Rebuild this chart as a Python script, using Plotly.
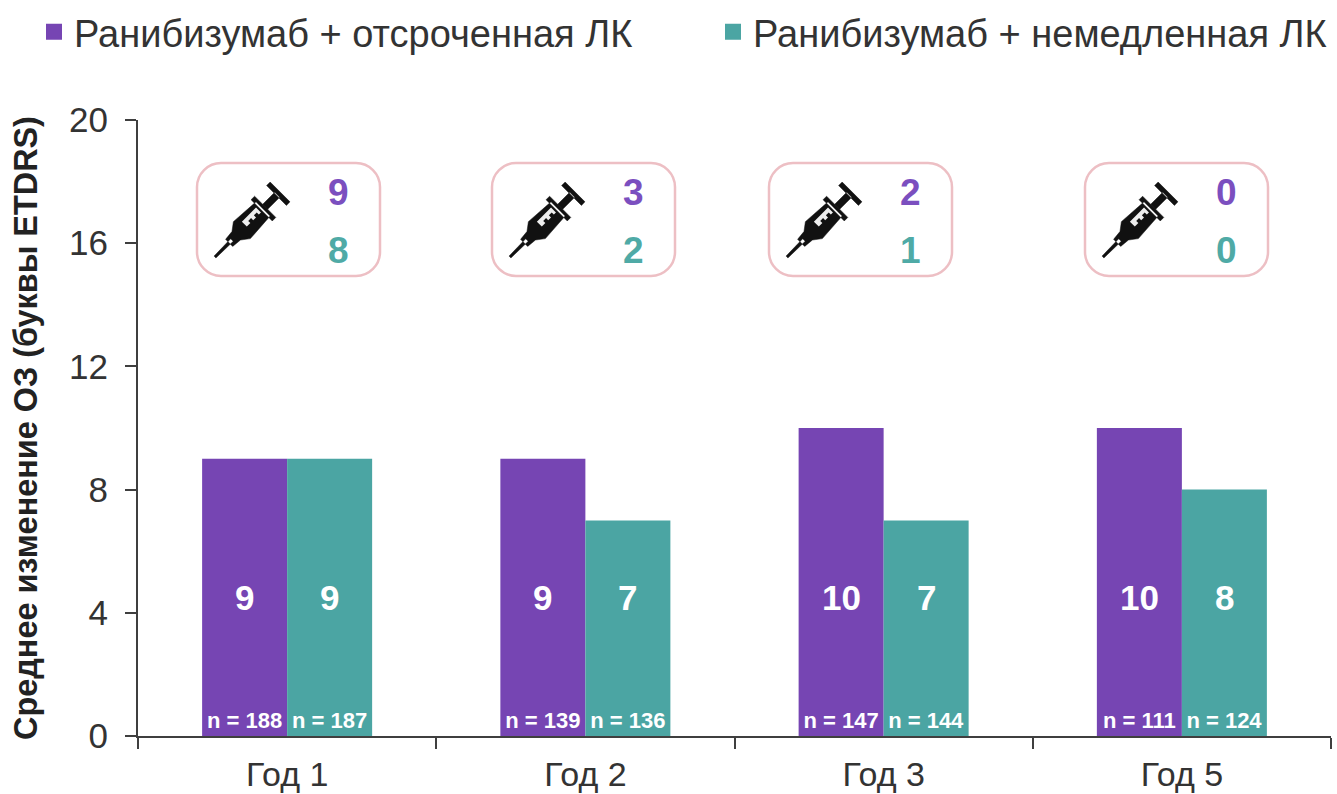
import math
import plotly.graph_objects as go

W, H = 1337, 794
ML, MR, MT, MB = 138, 6, 120, 58

categories = ["Год 1", "Год 2", "Год 3", "Год 5"]
delayed_name = "Ранибизумаб + отсроченная ЛК"
immediate_name = "Ранибизумаб + немедленная ЛК"
delayed = [9, 9, 10, 10]
immediate = [9, 7, 7, 8]
delayed_n = ["n = 188", "n = 139", "n = 147", "n = 111"]
immediate_n = ["n = 187", "n = 136", "n = 144", "n = 124"]
delayed_inj = [9, 3, 2, 0]
immediate_inj = [8, 2, 1, 0]
box_left_px = [197, 492, 769, 1085]
y_ticks = [0, 4, 8, 12, 16, 20]

PURPLE = "#7645B3"
TEAL = "#4BA5A3"
PINK = "#EDBFC4"
DARK = "#3F3F3F"
TEXT = "#333333"
FONT = "Liberation Sans, Arial, sans-serif"


def px(x):
    return (x - ML) / (W - ML - MR)


def py(y):
    return 1 - (y - MT) / (H - MT - MB)


fig = go.Figure()
for name, vals, ns, col, leg in [
    (delayed_name, delayed, delayed_n, PURPLE, "legend"),
    (immediate_name, immediate, immediate_n, TEAL, "legend2"),
]:
    fig.add_trace(go.Bar(
        x=categories, y=vals, name=name, marker=dict(color=col, line_width=0),
        text=ns, textposition="inside", insidetextanchor="start", textangle=0,
        constraintext="none",
        textfont=dict(family=FONT, size=22, color="white", weight="bold"),
        showlegend=False,
    ))
    fig.add_trace(go.Scatter(
        x=[None], y=[None], mode="markers", name=name, legend=leg,
        marker=dict(symbol="square", size=18, color=col),
    ))

annotations = []
shapes = []
for i in range(len(categories)):
    for vals, shift in [(delayed, -42.5), (immediate, 42.5)]:
        annotations.append(dict(
            x=categories[i], xref="x", y=4.5, yref="y", xshift=shift, text=str(vals[i]),
            showarrow=False, font=dict(family=FONT, size=35, color="white", weight="bold"),
        ))
    L = box_left_px[i]
    R, T, B, r = L + 183, 163, 276, 24
    k = 0.45 * r
    path = (
        f"M{px(L + r)},{py(T)} L{px(R - r)},{py(T)} "
        f"C{px(R - k)},{py(T)} {px(R)},{py(T + k)} {px(R)},{py(T + r)} "
        f"L{px(R)},{py(B - r)} "
        f"C{px(R)},{py(B - k)} {px(R - k)},{py(B)} {px(R - r)},{py(B)} "
        f"L{px(L + r)},{py(B)} "
        f"C{px(L + k)},{py(B)} {px(L)},{py(B - k)} {px(L)},{py(B - r)} "
        f"L{px(L)},{py(T + r)} "
        f"C{px(L)},{py(T + k)} {px(L + k)},{py(T)} {px(L + r)},{py(T)} Z"
    )
    shapes.append(dict(type="path", xref="paper", yref="paper", path=path,
                       line=dict(color=PINK, width=2.5), fillcolor="white", layer="below"))

    # syringe icon, drawn along its own axis from the needle tip
    ox, oy = L + 18, 257
    c = math.cos(math.radians(45))

    def P(u, v):
        return f"{px(ox + (u + v) * c)},{py(oy - (u - v) * c)}"

    def poly(points):
        return "M" + " L".join(P(u, v) for u, v in points) + " Z"

    icon = [
        [(0, -1.3), (24, -1.8), (24, 1.8), (0, 1.3)],
        [(20, -5), (30, -6), (38, -12), (68, -10), (68, 10), (38, 12), (30, 6), (20, 5)],
        [(66, -15), (71, -15), (71, 15), (66, 15)],
        [(71, -3.5), (88, -3.5), (88, 3.5), (71, 3.5)],
        [(87, -14), (92, -14), (92, 14), (87, 14)],
    ]
    black = " ".join(poly(p) for p in icon)
    shapes.append(dict(type="path", xref="paper", yref="paper", path=black,
                       line=dict(color="#111111", width=0.5), fillcolor="#111111", layer="above"))
    window = [(44, -6), (64, -6), (64, 1), (61, 1), (61, -2), (57, -2), (57, 1), (53, 1),
              (53, -2), (49, -2), (49, 1), (44, 1)]
    shapes.append(dict(type="path", xref="paper", yref="paper", path=poly(window),
                       line=dict(color="white", width=0), fillcolor="#eeeeee", layer="above"))

    for vals, col, y in [(delayed_inj, "#7B4FBF", 192), (immediate_inj, "#4FAAA6", 250)]:
        annotations.append(dict(
            x=px(L + 141), xref="paper", xanchor="center",
            y=py(y), yref="paper", yanchor="middle", text=str(vals[i]),
            showarrow=False, font=dict(family=FONT, size=37, color=col, weight="bold"),
        ))

legend_style = dict(
    orientation="h", yanchor="middle", y=py(32), xanchor="left",
    font=dict(family=FONT, size=38, color=TEXT), itemclick=False, itemdoubleclick=False,
    itemwidth=30, bgcolor="rgba(0,0,0,0)",
)

fig.update_layout(
    width=W, height=H, margin=dict(l=ML, r=MR, t=MT, b=MB, autoexpand=False),
    paper_bgcolor="white", plot_bgcolor="white",
    barmode="group", bargap=0.43, bargroupgap=0,
    font=dict(family=FONT, color=TEXT),
    shapes=shapes, annotations=annotations,
    legend=dict(x=px(34), **legend_style),
    legend2=dict(x=px(713), **legend_style),
    xaxis=dict(
        type="category", categoryorder="array", categoryarray=categories,
        tickson="boundaries", ticks="outside", ticklen=11, tickwidth=2, tickcolor=DARK,
        showline=True, linecolor=DARK, linewidth=2, showgrid=False, zeroline=False,
        tickfont=dict(family=FONT, size=34, color=TEXT), ticklabelstandoff=7,
    ),
    yaxis=dict(
        range=[0, 20], tickvals=y_ticks, ticks="outside", ticklen=11, tickwidth=2,
        tickcolor=DARK, showline=True, linecolor=DARK, linewidth=2, showgrid=False,
        zeroline=False, tickfont=dict(family=FONT, size=35, color=TEXT), ticklabelstandoff=10,
        title=dict(text="<b>Среднее изменение ОЗ (буквы ETDRS)</b>",
                   font=dict(family=FONT, size=32.4, color="#222222"), standoff=22),
    ),
)

fig.write_html("out.html", config=dict(displayModeBar=False),
               post_script="document.body.style.margin='0';")
